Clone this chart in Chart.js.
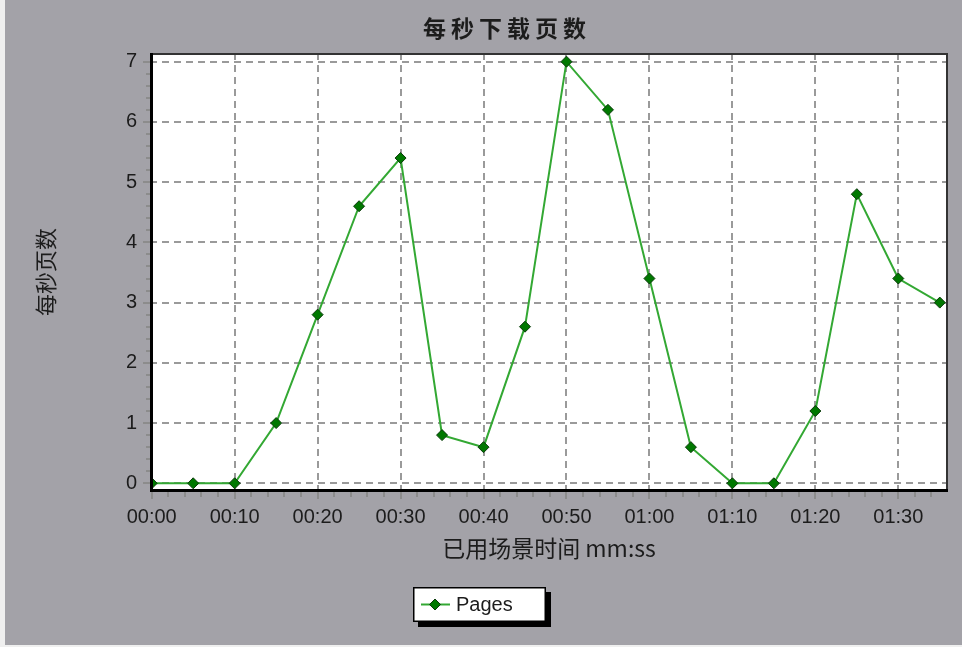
<!DOCTYPE html>
<html>
<head>
<meta charset="utf-8">
<script src="https://cdn.jsdelivr.net/npm/chart.js@4/dist/chart.umd.min.js"></script>
<style>
  html, body { margin: 0; padding: 0; background: #f0f0f0; }
  canvas { display: block; }
</style>
</head>
<body>
<canvas id="c" width="962" height="647"></canvas>
<script>
// ---- data ----
const chartTitle = '每秒下载页数';
const xAxisTitle = '已用场景时间 mm:ss';
const yAxisTitle = '每秒页数';
const seriesName = 'Pages';
const elapsedSeconds = [0, 5, 10, 15, 20, 25, 30, 35, 40, 45, 50, 55, 60, 65, 70, 75, 80, 85, 90, 95];
const pagesPerSecond = [0, 0, 0, 1.0, 2.8, 4.6, 5.4, 0.8, 0.6, 2.6, 7.0, 6.2, 3.4, 0.6, 0, 0, 1.2, 4.8, 3.4, 3.0];
const xTickValues = [0, 10, 20, 30, 40, 50, 60, 70, 80, 90];
const xTickLabels = ['00:00', '00:10', '00:20', '00:30', '00:40', '00:50', '01:00', '01:10', '01:20', '01:30'];
const yTickValues = [0, 1, 2, 3, 4, 5, 6, 7];
const xMinorStep = 2;
const yMinorStep = 0.2;

// ---- styles ----
const BG = '#a3a2a8';
const TEXT = '#1c1c1c';
const LINE = '#33a833';
const MARK = '#007800';
const MARK_BORDER = '#0a3a0a';
const LATIN = '"Liberation Sans", Arial, sans-serif';
const CJK = '"Noto Sans CJK SC", "Liberation Sans", sans-serif';

const background = {
  id: 'background',
  beforeDraw(chart) {
    const ctx = chart.ctx;
    ctx.save();
    ctx.fillStyle = '#efefef';
    ctx.fillRect(0, 0, chart.width, chart.height);
    ctx.fillStyle = BG;
    ctx.fillRect(5, 0, chart.width - 5, chart.height - 2);
    ctx.fillStyle = '#ffffff';
    const a = chart.chartArea;
    ctx.fillRect(a.left, a.top, a.right - a.left, a.bottom - a.top);
    ctx.restore();
  }
};

const frame = {
  id: 'frame',
  afterDatasetsDraw(chart) {
    const {ctx, chartArea: a} = chart;
    ctx.save();
    ctx.strokeStyle = '#333333';
    ctx.lineWidth = 2;
    ctx.beginPath();
    ctx.moveTo(a.left, a.top + 1);
    ctx.lineTo(a.right - 1, a.top + 1);
    ctx.lineTo(a.right - 1, a.bottom);
    ctx.stroke();
    ctx.strokeStyle = '#000000';
    ctx.lineWidth = 3;
    ctx.beginPath();
    ctx.moveTo(a.left + 1.5, a.top);
    ctx.lineTo(a.left + 1.5, a.bottom - 0.5);
    ctx.lineTo(a.right, a.bottom - 0.5);
    ctx.stroke();
    ctx.restore();
  }
};

const minorTicks = {
  id: 'minorTicks',
  afterDraw(chart) {
    const {ctx, chartArea: a, scales: {x, y}} = chart;
    ctx.save();
    ctx.strokeStyle = '#8c8c8c';
    ctx.lineWidth = 2;
    ctx.beginPath();
    const xMax = elapsedSeconds[elapsedSeconds.length - 1];
    for (let i = 1; i * xMinorStep <= xMax; i++) {
      const s = i * xMinorStep;
      if (xTickValues.includes(s)) continue;
      const px = Math.round(x.getPixelForValue(s));
      ctx.moveTo(px, a.bottom + 1);
      ctx.lineTo(px, a.bottom + 6);
    }
    const yMax = yTickValues[yTickValues.length - 1];
    const n = Math.round(yMax / yMinorStep);
    for (let i = 1; i < n; i++) {
      if (i % 5 === 0) continue;
      const py = Math.round(y.getPixelForValue(i * yMinorStep));
      ctx.moveTo(a.left - 4, py);
      ctx.lineTo(a.left, py);
    }
    ctx.stroke();
    ctx.restore();
  }
};

const texts = {
  id: 'texts',
  afterDraw(chart) {
    const ctx = chart.ctx;
    ctx.save();
    // title
    ctx.fillStyle = TEXT;
    ctx.font = 'bold 23px ' + CJK;
    ctx.textAlign = 'center';
    ctx.textBaseline = 'middle';
    if ('letterSpacing' in ctx) ctx.letterSpacing = '5px';
    ctx.fillText(chartTitle, 507, 28);
    if ('letterSpacing' in ctx) ctx.letterSpacing = '0px';

    // legend
    const bx = 413, by = 587, bw = 133, bh = 35;
    ctx.fillStyle = '#000000';
    ctx.fillRect(bx + 5, by + 5, bw, bh);
    ctx.fillStyle = '#ffffff';
    ctx.fillRect(bx, by, bw, bh);
    ctx.strokeStyle = '#000000';
    ctx.lineWidth = 1.5;
    ctx.strokeRect(bx + 0.75, by + 0.75, bw - 1.5, bh - 1.5);
    const ly = by + bh / 2;
    ctx.strokeStyle = LINE;
    ctx.lineWidth = 2;
    ctx.beginPath();
    ctx.moveTo(bx + 8, ly);
    ctx.lineTo(bx + 37, ly);
    ctx.stroke();
    ctx.fillStyle = MARK;
    ctx.strokeStyle = MARK_BORDER;
    ctx.lineWidth = 1;
    ctx.beginPath();
    const mx = bx + 22, r = 5.5;
    ctx.moveTo(mx, ly - r);
    ctx.lineTo(mx + r, ly);
    ctx.lineTo(mx, ly + r);
    ctx.lineTo(mx - r, ly);
    ctx.closePath();
    ctx.fill();
    ctx.stroke();
    ctx.fillStyle = TEXT;
    ctx.font = '20px ' + LATIN;
    ctx.textAlign = 'left';
    ctx.fillText(seriesName, bx + 43, ly + 1);
    ctx.restore();
  }
};

new Chart(document.getElementById('c'), {
  type: 'line',
  data: {
    datasets: [{
      label: seriesName,
      data: elapsedSeconds.map((s, i) => ({x: s, y: pagesPerSecond[i]})),
      borderColor: LINE,
      borderWidth: 2,
      backgroundColor: MARK,
      pointStyle: 'rectRot',
      pointRadius: 5.5,
      pointBackgroundColor: MARK,
      pointBorderColor: MARK_BORDER,
      pointBorderWidth: 1,
      tension: 0,
      fill: false
    }]
  },
  options: {
    responsive: false,
    animation: false,
    devicePixelRatio: 1,
    layout: { padding: { top: 53, left: 0, right: 14, bottom: 0 } },
    plugins: {
      legend: { display: false },
      title: { display: false },
      tooltip: { enabled: false }
    },
    scales: {
      x: {
        type: 'linear',
        min: -0.205,
        max: 95.99,
        afterBuildTicks(scale) { scale.ticks = xTickValues.map(v => ({value: v})); },
        afterFit(scale) { scale.height = 156; },
        ticks: {
          autoSkip: false,
          maxRotation: 0,
          padding: 6,
          color: TEXT,
          font: { family: LATIN, size: 20 },
          callback: (v, i) => xTickLabels[i]
        },
        grid: { color: '#9a9a9a', lineWidth: 2, drawTicks: true, tickLength: 8, tickColor: '#8c8c8c', tickWidth: 2 },
        border: { display: false, dash: [7, 5] },
        title: {
          display: true,
          text: xAxisTitle,
          color: TEXT,
          font: { family: CJK, size: 23 },
          padding: { top: 0, bottom: 85 }
        }
      },
      y: {
        type: 'linear',
        min: -0.128,
        max: 7.144,
        afterBuildTicks(scale) { scale.ticks = yTickValues.map(v => ({value: v})); },
        afterFit(scale) { scale.width = 150; },
        ticks: {
          padding: 6,
          color: TEXT,
          font: { family: LATIN, size: 20 }
        },
        grid: { color: '#9a9a9a', lineWidth: 2, drawTicks: true, tickLength: 7, tickColor: '#8c8c8c', tickWidth: 2 },
        border: { display: false, dash: [7, 5] },
        title: {
          display: true,
          text: yAxisTitle,
          color: TEXT,
          font: { family: CJK, size: 22 },
          padding: { top: 32, bottom: 0 }
        }
      }
    }
  },
  plugins: [background, frame, minorTicks, texts]
});
</script>
</body>
</html>
